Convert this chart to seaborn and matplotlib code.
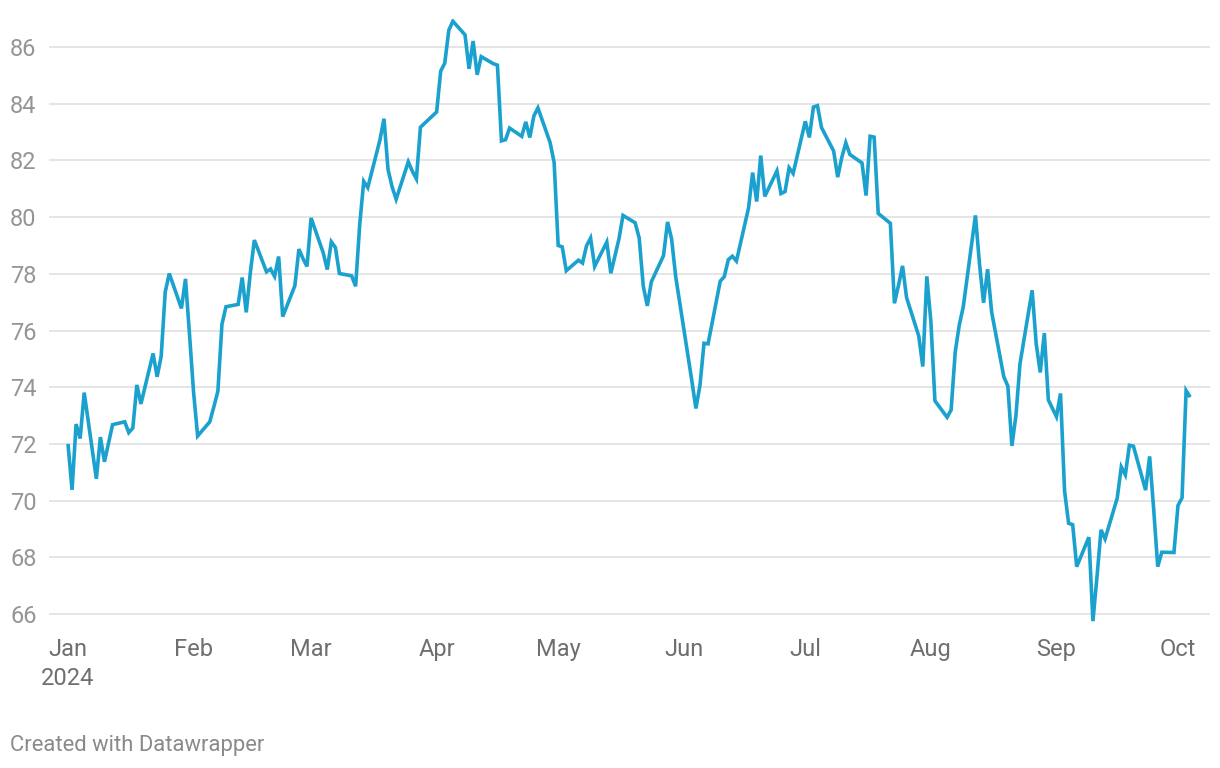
import matplotlib
matplotlib.use("Agg")
import matplotlib.pyplot as plt
import seaborn as sns
import pandas as pd
import numpy as np

jan = ["01-01","01-02","01-03","01-04","01-05","01-08","01-09","01-10","01-11","01-12","01-15","01-16","01-17","01-18","01-19","01-22","01-23","01-24","01-25","01-26","01-29","01-30","01-31"]
jan_v = [72.0,70.38,72.70,72.19,73.81,70.77,72.24,71.37,72.02,72.68,72.78,72.40,72.56,74.08,73.41,75.19,74.37,75.09,77.36,78.01,76.78,77.82,75.85]
feb = ["02-01","02-02","02-05","02-06","02-07","02-08","02-09","02-12","02-13","02-14","02-15","02-16","02-19","02-20","02-21","02-22","02-23","02-26","02-27","02-28","02-29"]
feb_v = [73.82,72.28,72.78,73.31,73.86,76.22,76.84,76.92,77.87,76.64,78.03,79.19,78.07,78.17,77.91,78.61,76.49,77.58,78.87,78.54,78.26]
mar = ["03-01","03-04","03-05","03-06","03-07","03-08","03-11","03-12","03-13","03-14","03-15","03-18","03-19","03-20","03-21","03-22","03-25","03-26","03-27","03-28"]
mar_v = [79.97,78.74,78.15,79.13,78.93,78.01,77.93,77.56,79.72,81.26,81.04,82.72,83.47,81.68,81.07,80.63,81.95,81.62,81.35,83.17]
apr = ["04-01","04-02","04-03","04-04","04-05","04-08","04-09","04-10","04-11","04-12","04-15","04-16","04-17","04-18","04-19","04-22","04-23","04-24","04-25","04-26","04-29","04-30"]
apr_v = [83.71,85.15,85.43,86.59,86.91,86.43,85.23,86.21,85.02,85.66,85.41,85.36,82.69,82.73,83.14,82.85,83.36,82.81,83.57,83.85,82.63,81.93]
may = ["05-01","05-02","05-03","05-06","05-07","05-08","05-09","05-10","05-13","05-14","05-15","05-16","05-17","05-20","05-21","05-22","05-23","05-24","05-27","05-28","05-29","05-30","05-31"]
may_v = [79.00,78.95,78.11,78.48,78.38,78.99,79.26,78.26,79.12,78.02,78.63,79.23,80.06,79.80,79.26,77.57,76.87,77.72,78.64,79.83,79.23,77.91,76.99]
jun = ["06-03","06-04","06-05","06-06","06-07","06-10","06-11","06-12","06-13","06-14","06-17","06-18","06-19","06-20","06-21","06-24","06-25","06-26","06-27","06-28"]
jun_v = [74.22,73.25,74.07,75.55,75.53,77.74,77.90,78.50,78.62,78.45,80.33,81.57,80.55,82.17,80.73,81.63,80.83,80.90,81.74,81.54]
jul = ["07-01","07-02","07-03","07-04","07-05","07-08","07-09","07-10","07-11","07-12","07-15","07-16","07-17","07-18","07-19","07-22","07-23","07-24","07-25","07-26","07-29","07-30","07-31"]
jul_v = [83.38,82.81,83.88,83.93,83.16,82.33,81.41,82.10,82.62,82.21,81.91,80.76,82.85,82.82,80.13,79.78,76.96,77.59,78.28,77.16,75.81,74.73,77.91]
aug = ["08-01","08-02","08-05","08-06","08-07","08-08","08-09","08-12","08-13","08-14","08-15","08-16","08-19","08-20","08-21","08-22","08-23","08-26","08-27","08-28","08-29","08-30"]
aug_v = [76.31,73.52,72.94,73.20,75.23,76.19,76.84,80.06,78.35,76.98,78.16,76.65,74.37,74.04,71.93,73.01,74.83,77.42,75.53,74.52,75.91,73.55]
sep = ["09-01","09-02","09-03","09-04","09-05","09-06","09-09","09-10","09-11","09-12","09-13","09-16","09-17","09-18","09-19","09-20","09-23","09-24","09-25","09-26","09-27","09-30"]
sep_v = [72.96,73.78,70.34,69.20,69.15,67.67,68.71,65.75,67.31,68.97,68.65,70.09,71.19,70.91,71.95,71.92,70.37,71.56,69.69,67.67,68.18,68.17]
octo = ["10-01","10-02","10-03","10-04"]
oct_v = [69.83,70.10,73.88,73.65]

month_labels = ["Jan\n2024","Feb","Mar","Apr","May","Jun","Jul","Aug","Sep","Oct"]
y_ticks = [66,68,70,72,74,76,78,80,82,84,86]

days = jan+feb+mar+apr+may+jun+jul+aug+sep+octo
vals = jan_v+feb_v+mar_v+apr_v+may_v+jun_v+jul_v+aug_v+sep_v+oct_v
df = pd.DataFrame({"date": pd.to_datetime(["2024-" + d for d in days]), "price": vals})

sns.set_theme(style="white")
plt.rcParams['font.family'] = ['Roboto', 'DejaVu Sans']

fig = plt.figure(figsize=(12.2, 7.68), dpi=100)
ax = fig.add_axes([49/1220, 1-628.2/768, (1210-49)/1220, (628.2-18.65)/768])

ax.set_ylim(65.5, 87.0)
start = pd.Timestamp("2024-01-01")
ax.set_xlim(start - pd.Timedelta(days=4.69), start + pd.Timedelta(days=281.9))

for v in y_ticks:
    ax.axhline(v, color="#e3e3e3", lw=1.3, zorder=0)

sns.lineplot(data=df, x="date", y="price", ax=ax, color="#1ba1cd", lw=2.6, zorder=3,
             solid_joinstyle="miter", solid_capstyle="butt")

ax.set_yticks(y_ticks)
ax.set_yticklabels([str(v) for v in y_ticks])
ticks = pd.date_range("2024-01-01", "2024-10-01", freq="MS")
ax.set_xticks(ticks)
ax.set_xticklabels(month_labels, linespacing=1.35)
ax.tick_params(axis="y", length=0, pad=9, labelsize=17, labelcolor="#959595")
ax.tick_params(axis="x", length=0, pad=7, labelsize=17, labelcolor="#6f6f6f")
ax.set_xlabel("")
ax.set_ylabel("")
for s in ax.spines.values():
    s.set_visible(False)
ax.grid(False)

fig.text(10/1220, 1-745/768, "Created with Datawrapper", fontsize=15.8, color="#8a8a8a",
         ha="left", va="center")

fig.savefig("out.png", dpi=100)
